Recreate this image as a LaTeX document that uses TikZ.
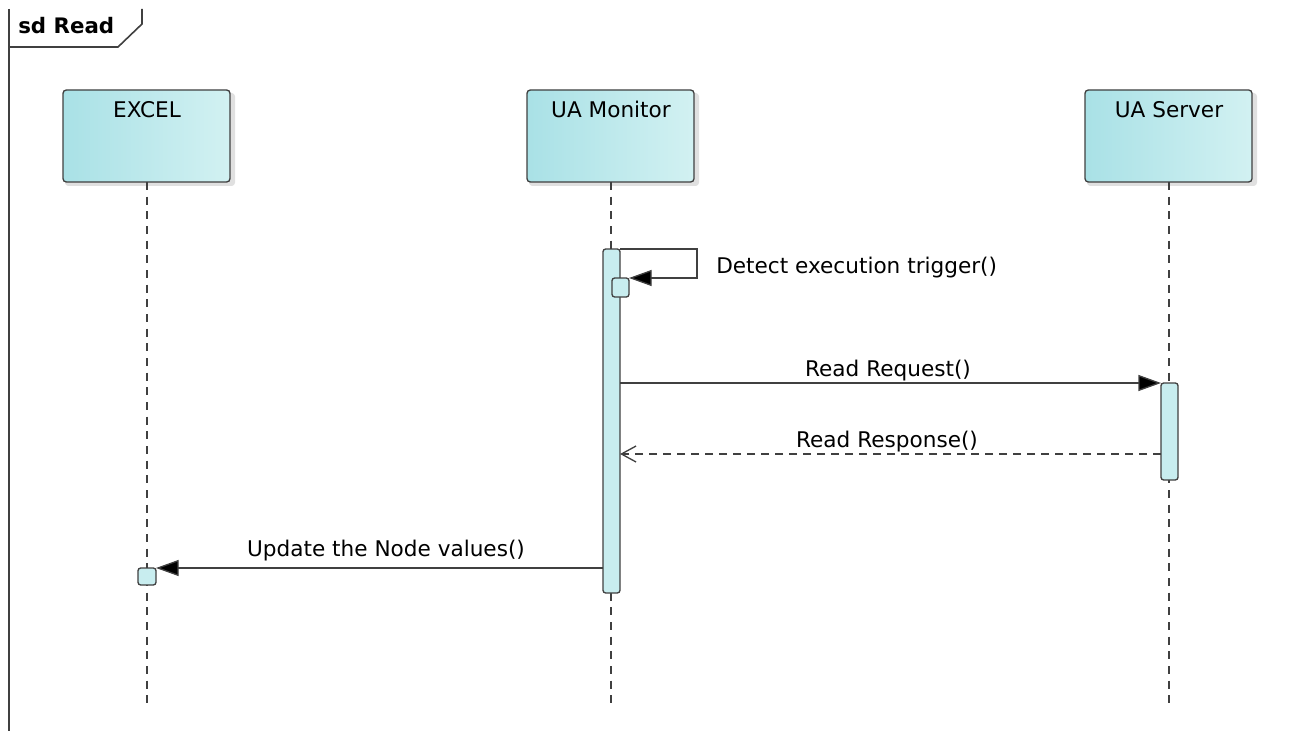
\documentclass[tikz,border=0pt]{standalone}
\usepackage{fontspec}
\setmainfont{DejaVu Sans}
\usetikzlibrary{arrows.meta}
\definecolor{lineC}{HTML}{404040}
\definecolor{boxL}{HTML}{A9E1E6}
\definecolor{boxR}{HTML}{D2F1F2}
\definecolor{actC}{HTML}{C8EDEF}
\begin{document}
\begin{tikzpicture}[x=0.75pt,y=-0.75pt,
  lifebox/.style={draw=lineC,line width=1pt,rounded corners=2.5pt,left color=boxL,right color=boxR},
  shadowbox/.style={fill=black!12,rounded corners=2.5pt},
  actbox/.style={draw=lineC,line width=1pt,rounded corners=2pt,fill=actC},
  lifeline/.style={draw=lineC,line width=0.9pt,dash pattern=on 6pt off 5pt},
  msg/.style={draw=lineC,line width=1pt,-{Triangle[length=17pt,width=12pt,fill=black]}},
  reply/.style={draw=lineC,line width=1pt,dash pattern=on 6pt off 4.5pt,-{Straight Barb[length=11pt,width=12pt,line width=1pt]}},
  lbl/.style={font=\fontsize{16.2pt}{19pt}\selectfont,text=black,inner sep=0pt},
  hdr/.style={font=\fontsize{16.2pt}{19pt}\selectfont,text=black,inner sep=0pt,anchor=base}]
\useasboundingbox (0,0) rectangle (1310,731);
% frame
\draw[lineC,line width=1.2pt] (9,9) -- (9,731);
\draw[lineC,line width=1.2pt] (9,47) -- (118,47) -- (142,24) -- (142,9);
\node[lbl,font=\fontsize{16pt}{18pt}\selectfont\bfseries,anchor=base west] (title) at (18,34) {sd Read};
% lifelines
\foreach \n/\cx/\t in {excel/147/EXCEL,mon/611/UA Monitor,srv/1169/UA Server}{
  \fill[shadowbox] (\cx-82,93) rectangle (\cx+88,186);
  \path[lifebox] (\cx-84,90) rectangle (\cx+83,182);
  \coordinate (\n top) at (\cx,182);
  \coordinate (\n bot) at (\cx,703);
  \node[hdr] (\n) at (\cx,118) {\t};
  \draw[lifeline] (\n top) -- (\n bot);
}
% activations
\path[actbox] (603,249) rectangle (620,593);
\node[inner sep=0pt,minimum size=0pt] (monact) at (611.5,421) {};
\path[actbox] (612,278) rectangle (629,297);
\path[actbox] (1161,383) rectangle (1178,480);
\path[actbox] (138,568) rectangle (156,585);
% self message
\coordinate (s1) at (620,249);
\coordinate (s2) at (697,249);
\coordinate (s3) at (697,278);
\coordinate (s4) at (629,278);
\draw[msg] (s1) -- (s2) -- (s3) -- (s4);
\node[lbl,anchor=base west] (m1) at (716,273) {Detect execution trigger()};
% read request
\coordinate (rq1) at (620,383);
\coordinate (rq2) at (1161,383);
\draw[msg] (rq1) -- (rq2);
\node[lbl,anchor=base] (m2) at (888,376) {Read Request()};
% read response
\coordinate (rs1) at (1161,454);
\coordinate (rs2) at (620,454);
\draw[reply] (rs1) -- (rs2);
\node[lbl,anchor=base] (m3) at (887,447) {Read Response()};
% update
\coordinate (u1) at (603,568);
\coordinate (u2) at (156,568);
\draw[msg] (u1) -- (u2);
\node[lbl,anchor=base] (m4) at (386,556) {Update the Node values()};
\end{tikzpicture}
\end{document}
